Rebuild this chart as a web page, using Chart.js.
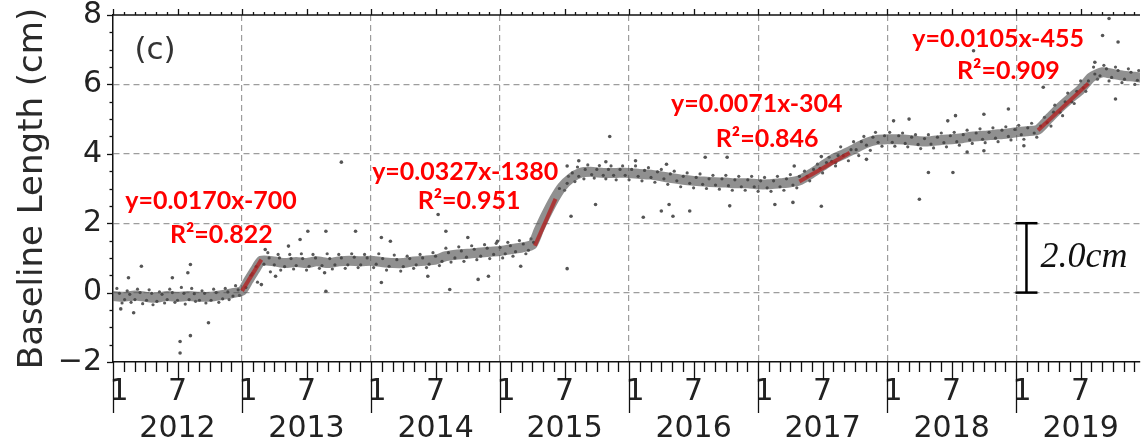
<!DOCTYPE html>
<html>
<head>
<meta charset="utf-8">
<script src="https://cdn.jsdelivr.net/npm/chart.js@4.4.1/dist/chart.umd.min.js"></script>
<style>
  html, body { margin: 0; padding: 0; background: #fff; }
  #wrap { width: 1144px; height: 448px; }
</style>
</head>
<body>
<div id="wrap"><canvas id="baselineChart" width="1144" height="448"></canvas></div>
<script>
// ---- data ----
const years = [2012, 2013, 2014, 2015, 2016, 2017, 2018, 2019];
const yTickLabels = ['\u22122', '0', '2', '4', '6', '8'];

// smoothed centre of the daily cloud (decimal year, cm)
const bandYears = [2012.00,2012.08,2012.17,2012.25,2012.33,2012.42,2012.50,2012.58,2012.67,2012.75,2012.83,2012.92,
  2013.00,2013.05,2013.10,2013.15,2013.25,2013.33,2013.42,2013.50,2013.58,2013.67,2013.75,2013.83,2013.92,
  2014.00,2014.08,2014.17,2014.25,2014.33,2014.42,2014.50,2014.58,2014.67,2014.75,2014.83,2014.92,
  2015.00,2015.08,2015.17,2015.25,2015.30,2015.35,2015.42,2015.48,2015.55,2015.62,2015.70,2015.80,2015.90,
  2016.00,2016.08,2016.17,2016.25,2016.33,2016.42,2016.50,2016.58,2016.67,2016.75,2016.83,2016.92,
  2017.00,2017.08,2017.17,2017.25,2017.33,2017.42,2017.50,2017.58,2017.67,2017.75,2017.83,2017.92,
  2018.00,2018.08,2018.17,2018.25,2018.33,2018.42,2018.50,2018.58,2018.67,2018.75,2018.83,2018.92,
  2019.00,2019.08,2019.17,2019.25,2019.33,2019.42,2019.50,2019.58,2019.67,2019.75,2019.83,2019.92,2019.96];
const bandValues = [-0.10,-0.12,-0.08,-0.12,-0.15,-0.10,-0.12,-0.10,-0.12,-0.12,-0.08,-0.02,
  0.05,0.35,0.65,0.92,0.90,0.85,0.88,0.85,0.90,0.85,0.90,0.92,0.90,
  0.92,0.88,0.85,0.85,0.90,0.92,0.95,1.05,1.10,1.12,1.15,1.18,
  1.20,1.25,1.30,1.38,1.80,2.20,2.70,3.05,3.30,3.45,3.48,3.45,3.45,
  3.45,3.42,3.40,3.35,3.30,3.25,3.22,3.20,3.18,3.17,3.15,3.15,
  3.12,3.12,3.15,3.18,3.25,3.45,3.65,3.85,4.00,4.15,4.30,4.40,
  4.42,4.42,4.40,4.36,4.36,4.40,4.42,4.45,4.50,4.52,4.55,4.58,
  4.62,4.65,4.70,5.00,5.30,5.60,5.85,6.20,6.35,6.30,6.25,6.22,6.20];

// individual solutions at the edges of the cloud
const edgePoints = [[2012.03,0.12],[2012.07,-0.3],[2012.11,0.05],[2012.14,-0.28],[2012.19,0.1],[2012.23,-0.32],[2012.28,0.08],[2012.31,-0.35],
  [2012.36,0.02],[2012.4,-0.3],[2012.44,0.1],[2012.48,-0.28],[2012.53,0.15],[2012.56,-0.33],[2012.61,0.12],[2012.64,-0.25],[2012.69,0.05],
  [2012.72,-0.3],[2012.78,0.1],[2012.82,-0.28],[2012.87,0.12],[2012.9,-0.2],[2012.95,0.2],[2012.98,-0.08],
  [2013.08,0.55],[2013.12,0.3],[2013.2,1.15],[2013.22,0.6],[2013.28,1.1],[2013.3,0.65],[2013.37,1.1],[2013.4,0.68],[2013.46,1.12],[2013.5,0.65],
  [2013.55,1.1],[2013.6,0.7],[2013.66,1.12],[2013.7,0.68],[2013.75,1.1],[2013.8,0.7],[2013.85,1.12],[2013.9,0.72],[2013.95,1.1],
  [2014.02,0.72],[2014.06,1.12],[2014.12,0.65],[2014.18,1.08],[2014.23,0.62],[2014.28,1.05],[2014.33,0.7],[2014.38,1.1],[2014.43,0.72],
  [2014.48,1.15],[2014.53,0.78],[2014.58,1.28],[2014.62,0.88],[2014.68,1.32],[2014.72,0.9],[2014.78,1.35],[2014.82,0.95],[2014.88,1.38],
  [2014.92,0.98],[2014.97,1.42],[2015.02,1.0],[2015.06,1.45],[2015.1,1.05],[2015.15,1.5],[2015.2,1.12],[2015.24,1.55],
  [2015.5,2.95],[2015.53,3.35],[2015.58,3.2],[2015.6,3.62],[2015.65,3.28],[2015.68,3.68],[2015.73,3.3],[2015.77,3.66],[2015.82,3.28],
  [2015.86,3.65],[2015.9,3.25],[2015.95,3.65],[2016.0,3.25],[2016.05,3.65],[2016.1,3.22],[2016.15,3.6],[2016.2,3.18],[2016.25,3.55],
  [2016.3,3.12],[2016.35,3.5],[2016.4,3.05],[2016.45,3.45],[2016.5,3.02],[2016.55,3.42],[2016.6,3.0],[2016.65,3.38],[2016.7,2.98],
  [2016.75,3.38],[2016.8,2.95],[2016.85,3.35],[2016.9,2.95],[2016.95,3.35],[2017.0,2.92],[2017.05,3.32],[2017.1,2.92],[2017.15,3.35],
  [2017.2,2.95],[2017.25,3.4],[2017.3,3.02],[2017.36,3.5],[2017.4,3.22],[2017.46,3.7],[2017.5,3.45],[2017.55,3.9],[2017.6,3.65],
  [2017.64,4.2],[2017.7,3.8],[2017.74,4.35],[2017.78,3.95],[2017.82,4.5],[2017.87,4.1],[2017.91,4.62],[2017.96,4.22],
  [2018.02,4.62],[2018.06,4.22],[2018.12,4.6],[2018.16,4.2],[2018.22,4.55],[2018.26,4.15],[2018.32,4.55],[2018.36,4.17],[2018.42,4.6],
  [2018.46,4.2],[2018.52,4.62],[2018.56,4.25],[2018.62,4.68],[2018.66,4.3],[2018.72,4.72],[2018.76,4.32],[2018.82,4.75],[2018.86,4.35],
  [2018.92,4.78],[2018.96,4.4],[2019.02,4.82],[2019.06,4.42],[2019.12,4.88],[2019.16,4.48],[2019.22,5.05],[2019.27,4.8],[2019.3,5.4],
  [2019.36,5.1],[2019.4,5.75],[2019.45,5.45],[2019.5,6.1],[2019.54,5.8],[2019.6,6.5],[2019.63,6.15],[2019.68,6.55],[2019.72,6.1],
  [2019.77,6.5],[2019.82,6.05],[2019.87,6.45],[2019.92,6.0],[2019.95,6.4]];

// solutions inside the cloud
const innerPoints = [[2012.05,-0.02],[2012.09,-0.2],[2012.13,-0.05],[2012.17,-0.2],[2012.21,0.0],[2012.26,-0.22],[2012.3,-0.02],[2012.34,-0.25],
  [2012.38,-0.05],[2012.42,-0.2],[2012.46,0.0],[2012.5,-0.22],[2012.55,-0.02],[2012.59,-0.2],[2012.63,-0.03],[2012.67,-0.22],[2012.71,-0.02],
  [2012.76,-0.22],[2012.8,0.0],[2012.85,-0.18],[2012.89,0.02],[2012.93,-0.1],[2012.97,0.08],
  [2013.03,0.15],[2013.07,0.5],[2013.11,0.75],[2013.17,0.82],[2013.21,1.0],[2013.25,0.8],[2013.29,1.0],[2013.33,0.75],[2013.38,0.98],
  [2013.42,0.78],[2013.47,0.98],[2013.52,0.76],[2013.57,1.0],[2013.62,0.78],[2013.68,0.98],[2013.72,0.8],[2013.77,1.0],[2013.82,0.8],
  [2013.87,1.02],[2013.92,0.8],[2013.97,1.0],
  [2014.04,0.82],[2014.09,0.98],[2014.14,0.76],[2014.2,0.95],[2014.25,0.75],[2014.3,0.98],[2014.35,0.8],[2014.4,1.0],[2014.45,0.82],
  [2014.5,1.05],[2014.55,0.9],[2014.6,1.15],[2014.65,1.0],[2014.7,1.2],[2014.74,1.02],[2014.8,1.25],[2014.85,1.05],[2014.9,1.28],[2014.95,1.1],
  [2015.0,1.3],[2015.04,1.12],[2015.08,1.35],[2015.12,1.18],[2015.18,1.4],[2015.22,1.22],[2015.26,1.45],[2015.46,3.0],[2015.52,3.15],
  [2015.56,3.45],[2015.61,3.35],[2015.66,3.55],[2015.71,3.4],[2015.75,3.55],[2015.8,3.38],[2015.84,3.55],[2015.88,3.38],[2015.93,3.55],
  [2015.97,3.38],[2016.02,3.55],[2016.07,3.35],[2016.12,3.52],[2016.17,3.32],[2016.22,3.48],[2016.27,3.28],[2016.32,3.42],[2016.37,3.22],
  [2016.42,3.35],[2016.47,3.15],[2016.52,3.32],[2016.57,3.12],[2016.62,3.28],[2016.67,3.1],[2016.72,3.28],[2016.77,3.08],[2016.82,3.25],
  [2016.87,3.05],[2016.92,3.25],[2016.97,3.05],
  [2017.02,3.22],[2017.07,3.02],[2017.12,3.22],[2017.17,3.05],[2017.22,3.28],[2017.27,3.1],[2017.32,3.35],[2017.38,3.35],[2017.43,3.55],
  [2017.48,3.58],[2017.53,3.75],[2017.57,3.78],[2017.62,3.95],[2017.66,3.95],[2017.72,4.12],[2017.76,4.12],[2017.8,4.35],[2017.84,4.25],
  [2017.89,4.48],[2017.93,4.33],[2017.98,4.52],
  [2018.04,4.33],[2018.09,4.52],[2018.14,4.3],[2018.19,4.48],[2018.24,4.27],[2018.29,4.44],[2018.34,4.28],[2018.39,4.48],[2018.44,4.32],
  [2018.49,4.52],[2018.54,4.35],[2018.59,4.55],[2018.64,4.4],[2018.69,4.6],[2018.74,4.42],[2018.79,4.62],[2018.84,4.45],[2018.89,4.68],
  [2018.94,4.5],[2018.99,4.7],
  [2019.04,4.55],[2019.09,4.75],[2019.14,4.6],[2019.19,4.8],[2019.24,4.9],[2019.29,5.2],[2019.34,5.2],[2019.38,5.5],[2019.43,5.5],
  [2019.47,5.8],[2019.52,5.9],[2019.56,6.1],[2019.61,6.3],[2019.65,6.25],[2019.7,6.45],[2019.74,6.2],[2019.79,6.4],[2019.84,6.15],
  [2019.89,6.35],[2019.94,6.12]];

// scattered outliers
const outlierPoints = [[2012.06,-0.47],[2012.12,0.43],[2012.16,-0.58],[2012.22,0.76],[2012.46,0.43],[2012.52,-1.41],[2012.52,-1.74],
  [2012.58,0.57],[2012.6,0.81],[2012.6,-1.24],[2012.74,-0.87],[2013.15,0.23],[2013.18,1.24],[2013.26,0.47],[2013.36,1.34],[2013.45,1.53],
  [2013.51,1.77],[2013.64,0.57],[2013.65,1.77],[2013.65,0.04],[2013.77,3.76],[2013.88,1.77],[2014.08,1.59],[2014.08,0.29],[2014.15,1.48],
  [2014.44,0.47],[2014.52,2.25],[2014.58,1.77],[2014.61,0.09],[2014.75,1.59],[2014.83,0.38],[2014.91,0.47],[2014.98,1.48],[2015.16,0.76],
  [2015.52,0.69],[2015.52,3.65],[2015.55,2.2],[2015.61,3.8],[2015.74,2.54],[2015.82,3.77],[2015.85,4.5],[2016.05,3.8],[2016.11,2.17],
  [2016.25,2.35],[2016.29,3.7],[2016.31,2.54],[2016.34,2.2],[2016.47,2.35],[2016.59,3.9],[2016.76,3.9],[2016.78,2.5],[2017.13,2.54],
  [2017.27,2.6],[2017.28,3.65],[2017.49,2.49],[2017.49,3.92],[2017.6,3.75],[2017.84,3.84],[2018.05,4.95],[2018.17,5.0],[2018.25,2.69],
  [2018.32,3.46],[2018.47,4.95],[2018.51,3.46],[2018.53,5.1],[2018.62,4.05],[2018.67,6.97],[2018.75,5.14],[2018.75,4.09],[2018.94,5.29],
  [2019.06,4.23],[2019.21,5.92],[2019.61,6.64],[2019.67,7.41],[2019.72,7.9],[2019.77,5.58],[2019.79,7.22]];

// linear fits over the four rapid-extension episodes
const fitStart = [[2013.00, 0.05], [2015.27, 1.35], [2017.32, 3.20], [2019.17, 4.68]];
const fitEnd   = [[2013.15, 0.95], [2015.43, 2.70], [2017.71, 4.03], [2019.56, 6.03]];
const fitEquations = ['y=0.0170x-700', 'y=0.0327x-1380', 'y=0.0071x-304', 'y=0.0105x-455'];
const fitR2 = ['R\u00b2=0.822', 'R\u00b2=0.951', 'R\u00b2=0.846', 'R\u00b2=0.909'];
const equationAt = [[2012.76, 2.63], [2014.73, 3.47], [2016.99, 5.43], [2018.86, 7.31]];
const r2At = [[2012.84, 1.65], [2014.76, 2.63], [2017.07, 4.42], [2018.94, 6.39]];

const toXY = p => ({x: p[0], y: p[1]});
const axisFont = "'DejaVu Sans', sans-serif";

const fitSets = fitStart.map((s, i) => ({
  data: [toXY(s), toXY(fitEnd[i])],
  showLine: true,
  borderColor: 'rgba(180,30,30,0.75)',
  borderWidth: 4,
  pointRadius: 0,
  order: 0
}));

const decor = {
  id: 'decor',
  afterDatasetsDraw(chart) {
    const {ctx, chartArea: a, scales: {x, y}} = chart;
    ctx.save();
    ctx.strokeStyle = '#111';
    ctx.lineWidth = 1.3;
    const seg = (x1, y1, x2, y2) => { ctx.beginPath(); ctx.moveTo(x1, y1); ctx.lineTo(x2, y2); ctx.stroke(); };
    // top frame
    seg(a.left, a.top, a.right, a.top);
    // month ticks on top and bottom
    years.forEach(yr => {
      for (let m = 0; m < 12; m++) {
        const px = Math.round(x.getPixelForValue(yr + m / 12)) + 0.5;
        const down = m === 0 ? 51 : (m === 6 ? 18 : 10);
        const up = (m === 0 || m === 6) ? 6 : 3;
        seg(px, a.bottom, px, a.bottom + down);
        seg(px, a.top, px, a.top - up);
      }
    });
    // y ticks every 0.5
    for (let v = -2; v <= 8; v += 0.5) {
      const py = Math.round(y.getPixelForValue(v)) + 0.5;
      seg(a.left, py, a.left - (v % 2 === 0 ? 6 : 3.5), py);
    }
    // panel letter
    ctx.fillStyle = '#333';
    ctx.font = "31px " + axisFont;
    ctx.textAlign = 'center';
    ctx.textBaseline = 'middle';
    ctx.fillText('(c)', a.left + 42, a.top + 36);
    // 2 cm scale bar
    const bx = x.getPixelForValue(2019.08), b0 = y.getPixelForValue(0), b2 = y.getPixelForValue(2);
    ctx.lineWidth = 2.5;
    ctx.strokeStyle = '#000';
    seg(bx, b0, bx, b2);
    seg(bx - 11, b0, bx + 11, b0);
    seg(bx - 11, b2, bx + 11, b2);
    ctx.fillStyle = '#111';
    ctx.font = "italic 36px 'Liberation Serif', serif";
    ctx.textAlign = 'left';
    ctx.fillText('2.0cm', bx + 14, (b0 + b2) / 2);
    // fit equations
    ctx.fillStyle = '#ff0000';
    ctx.font = "bold 25px Lato, sans-serif";
    ctx.textAlign = 'center';
    fitEquations.forEach((t, i) => {
      ctx.fillText(t, x.getPixelForValue(equationAt[i][0]), y.getPixelForValue(equationAt[i][1]));
      ctx.fillText(fitR2[i], x.getPixelForValue(r2At[i][0]), y.getPixelForValue(r2At[i][1]));
    });
    ctx.restore();
  }
};

const isYear = v => Math.abs(v - Math.round(v)) < 1e-6;

new Chart(document.getElementById('baselineChart'), {
  type: 'scatter',
  data: {
    datasets: [
      ...fitSets,
      {
        data: outlierPoints.map(toXY),
        pointRadius: 1.8, pointBorderWidth: 0,
        pointBackgroundColor: '#555', order: 1
      },
      {
        data: edgePoints.map(toXY),
        pointRadius: 1.6, pointBorderWidth: 0,
        pointBackgroundColor: '#5a5a5a', order: 2
      },
      {
        data: innerPoints.map(toXY),
        pointRadius: 1.6, pointBorderWidth: 0,
        pointBackgroundColor: '#4a4a4a', order: 2
      },
      {
        data: bandYears.map((t, i) => ({x: t, y: bandValues[i]})),
        showLine: true, tension: 0.2,
        borderColor: 'rgba(85,85,85,0.65)', borderWidth: 10,
        borderCapStyle: 'round', pointRadius: 0, order: 3
      }
    ]
  },
  options: {
    responsive: false,
    animation: false,
    layout: {padding: {top: 15, left: 0, right: 0, bottom: 0}},
    plugins: {legend: {display: false}, tooltip: {enabled: false}},
    scales: {
      x: {
        type: 'linear', position: 'bottom', weight: 0,
        min: 2012, max: 2019.96,
        afterBuildTicks: s => {
          const t = [];
          years.forEach(yr => { for (let m = 0; m < 12; m++) t.push({value: yr + m / 12}); });
          s.ticks = t;
        },
        afterFit: s => { s.height = 48; s.paddingLeft = 0; s.paddingRight = 0; },
        ticks: {
          autoSkip: false, maxRotation: 0, padding: 12, color: '#222',
          font: {family: axisFont, size: 30},
          callback: (v, i) => i % 12 === 0 ? '\u2009\u20091' : (i % 12 === 6 ? '7' : '')
        },
        grid: {
          drawTicks: false, lineWidth: 1.2,
          color: c => (c.tick && isYear(c.tick.value) && c.tick.value > 2012) ? '#9d9d9d' : 'rgba(0,0,0,0)'
        },
        border: {color: '#111', width: 1.5, dash: [6, 4]}
      },
      xYear: {
        type: 'linear', position: 'bottom', weight: 1,
        min: 2012, max: 2019.96,
        afterBuildTicks: s => { s.ticks = years.map(yr => ({value: yr + 0.5})); },
        afterFit: s => { s.height = 38; s.paddingLeft = 0; s.paddingRight = 0; },
        ticks: {
          autoSkip: false, maxRotation: 0, padding: 1, color: '#222',
          font: {family: axisFont, size: 30},
          callback: (v, i) => String(years[i])
        },
        grid: {display: false, drawTicks: false},
        border: {display: false}
      },
      y: {
        min: -2, max: 8,
        afterBuildTicks: s => {
          const t = [];
          for (let v = -2; v <= 8; v += 0.5) t.push({value: v});
          s.ticks = t;
        },
        afterFit: s => { s.width = 113; s.paddingTop = 0; s.paddingBottom = 0; },
        ticks: {
          autoSkip: false, padding: 11, color: '#222',
          font: {family: axisFont, size: 30, lineHeight: 1},
          callback: v => v % 2 === 0 ? yTickLabels[(v + 2) / 2] : ''
        },
        grid: {
          drawTicks: false, lineWidth: 1.2,
          color: c => (c.tick && c.tick.value % 2 === 0 && c.tick.value > -2 && c.tick.value < 8) ? '#9d9d9d' : 'rgba(0,0,0,0)'
        },
        border: {color: '#111', width: 1.5, dash: [6, 4]},
        title: {
          display: true, text: 'Baseline Length (cm)', color: '#2a2a2a',
          font: {family: axisFont, size: 34}, padding: {top: 13, bottom: 0}
        }
      }
    }
  },
  plugins: [decor]
});
</script>
</body>
</html>
